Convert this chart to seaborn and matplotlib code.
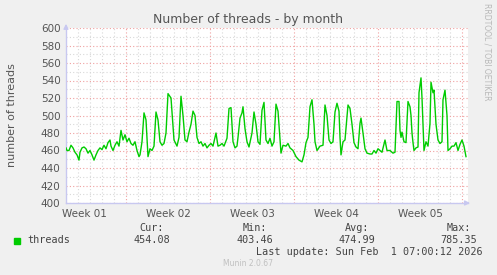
import numpy as np
import pandas as pd
import matplotlib
matplotlib.use("Agg")
import matplotlib.pyplot as plt
import seaborn as sns

# ---- data (hours since start of the window, thread counts) ----
hours = [0, 2, 6, 10, 14, 18, 22, 26, 28, 32, 36, 40, 44, 48, 52, 56, 60, 64, 68, 72,
         76, 80, 84, 88, 90, 94, 98, 102, 106, 110, 114, 118, 122, 126, 130, 134,
         138, 142, 146, 148, 152, 156, 160, 164, 168, 172, 176, 180, 184, 188, 192, 196,
         200, 204, 210, 216, 222, 226, 230, 234, 238, 242, 246, 250, 254, 258, 262, 266,
         270, 274, 278, 282, 286, 290, 294, 300, 304, 308, 312, 316, 322, 326, 330, 334,
         338, 342, 344, 348, 352, 354, 358, 362, 366, 372, 376, 380, 384, 388, 392, 396,
         400, 404, 408, 412, 416, 420, 424, 428, 430, 434, 440, 444, 448, 454, 460, 466,
         472, 476, 480, 484, 488, 492, 496, 498, 502, 508, 514, 518, 522, 526, 530, 534,
         538, 542, 546, 548, 550, 554, 558, 564, 568, 572, 576, 580, 584, 588, 590, 594,
         598, 602, 608, 612, 616, 620, 624, 628, 632, 638, 642, 648, 654, 658, 662, 666,
         668, 670, 672, 676, 680, 684, 688, 690, 692, 694, 696, 700, 704, 706, 710, 712,
         716, 720, 724, 728, 730, 734, 736, 740, 744, 748, 752, 754, 758, 762, 764, 768,
         772, 776, 780, 784, 788, 792, 796, 800]
threads = [463, 460, 460, 466, 463, 458, 455, 449, 458, 463, 464, 462, 457, 460, 455, 449, 455, 460, 463, 461,
           466, 462, 469, 472, 465, 460, 466, 470, 465, 483, 472, 478, 470, 474, 468, 466,
           470, 460, 453, 455, 470, 503, 495, 453, 462, 460, 465, 504, 495, 470, 466, 468,
           480, 525, 520, 472, 465, 475, 522, 500, 472, 470, 481, 490, 505, 500, 475, 468,
           470, 465, 468, 463, 466, 468, 465, 480, 465, 466, 468, 465, 474, 508, 509, 470,
           463, 465, 475, 497, 503, 510, 485, 470, 464, 480, 504, 490, 470, 467, 506, 515,
           472, 468, 474, 465, 470, 513, 505, 472, 457, 466, 465, 468, 463, 460, 453, 449,
           447, 455, 469, 475, 510, 518, 490, 470, 460, 465, 466, 512, 500, 472, 468, 470,
           504, 514, 505, 475, 455, 470, 472, 512, 508, 490, 469, 464, 462, 491, 497, 480,
           462, 457, 456, 456, 460, 457, 462, 460, 458, 472, 460, 460, 457, 458, 516, 516,
           483, 475, 481, 470, 469, 516, 510, 500, 480, 469, 460, 463, 464, 526, 543, 520,
           460, 470, 465, 491, 538, 526, 529, 490, 472, 468, 470, 518, 529, 500, 460, 462,
           465, 465, 469, 460, 467, 472, 465, 453]

week_labels = ["Week 01", "Week 02", "Week 03", "Week 04", "Week 05"]
y_ticks = [400, 420, 440, 460, 480, 500, 520, 540, 560, 580, 600]
stat_names = ["Cur:", "Min:", "Avg:", "Max:"]
stat_values = ["454.08", "403.46", "474.99", "785.35"]

df = pd.DataFrame({"hours": hours, "threads": threads})

W, H = 497, 275
fig = plt.figure(figsize=(W / 100, H / 100), dpi=100, facecolor="#F0F0F0")
L, R, T, B = 66, 468, 28, 203
ax = fig.add_axes([L / W, 1 - B / H, (R - L) / W, (B - T) / H])
ax.set_facecolor("white")

XMAX = 804
ax.set_xlim(0, XMAX)
ax.set_ylim(400, 600)

# grid
minor_col = "#d8d8d8"
major_col = "#f0a0a0"
for y in range(400, 601, 10):
    if y % 20:
        ax.axhline(y, color=minor_col, lw=0.8, ls=(0, (1, 2)), zorder=0)
for y in y_ticks:
    ax.axhline(y, color=major_col, lw=0.8, ls=(0, (1, 2)), zorder=0.5)
for h in range(24, XMAX, 24):
    if (h - 120) % 168:
        ax.axvline(h, color=minor_col, lw=0.8, ls=(0, (1, 2)), zorder=0)
for h in range(120, XMAX, 168):
    ax.axvline(h, color=major_col, lw=0.8, ls=(0, (1, 2)), zorder=0.5)

sns.lineplot(data=df, x="hours", y="threads", ax=ax, color="#00CC00", lw=1.0, zorder=3)

for s in ["top", "right"]:
    ax.spines[s].set_visible(False)
for s in ["left", "bottom"]:
    ax.spines[s].set_color("#c8c8f0")
    ax.spines[s].set_linewidth(1.0)

ax.set_yticks(y_ticks)
ax.set_yticklabels([str(v) for v in y_ticks])
ax.set_xticks([36 + 168 * i for i in range(len(week_labels))])
ax.set_xticklabels(week_labels)
ax.tick_params(axis="both", length=0, labelsize=7.5, colors="#555555", pad=4)
ax.set_xlabel("")
ax.set_ylabel("number of threads", fontsize=8, color="#555555")
ax.yaxis.set_label_coords((17 - L) / (R - L), 0.5)

# arrows
ax.annotate("", xy=(0, 1.04), xytext=(0, 0.98), xycoords="axes fraction",
            arrowprops=dict(arrowstyle="-|>", color="#c8c8f0", lw=1, mutation_scale=7),
            annotation_clip=False)
ax.annotate("", xy=(1.012, 0), xytext=(0.99, 0), xycoords="axes fraction",
            arrowprops=dict(arrowstyle="-|>", color="#c8c8f0", lw=1, mutation_scale=7),
            annotation_clip=False)


def ftext(x, y, s, **kw):
    fig.text(x / W, 1 - y / H, s, **kw)


ftext(248, 19, "Number of threads - by month", ha="center", va="center",
      fontsize=9, color="#555555")
ftext(487, 52, "RRDTOOL / TOBI OETIKER", ha="center", va="center", rotation=-90,
      fontsize=5.5, color="#b8b8b8")

mono = dict(family="DejaVu Sans Mono", fontsize=7.3, color="#444444", va="center")
fig.patches.append(plt.Rectangle((14 / W, 1 - 244 / H), 6 / W, 6 / H,
                                 transform=fig.transFigure, color="#00CC00"))
ftext(27, 240, "threads", ha="left", **mono)
centers = [152, 255, 357, 459]
for cx, n, v in zip(centers, stat_names, stat_values):
    ftext(cx, 228, n, ha="center", **mono)
    ftext(cx, 240, v, ha="center", **mono)
ftext(483, 252, "Last update: Sun Feb  1 07:00:12 2026", ha="right", **mono)
ftext(248, 264, "Munin 2.0.67", ha="center", va="center", fontsize=5.5, color="#c0c0c0")

fig.savefig("out.png", dpi=100, facecolor=fig.get_facecolor())
